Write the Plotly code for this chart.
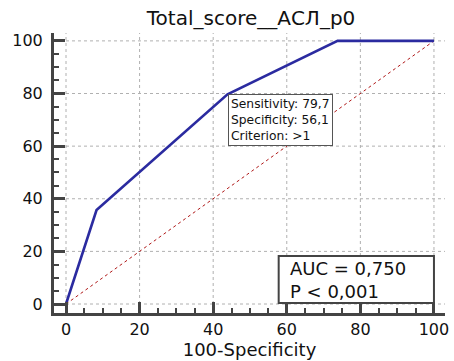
import plotly.graph_objects as go

# ROC curve coordinates (100-Specificity, Sensitivity)
fpr = [0, 8.3, 43.9, 73.8, 100]
tpr = [0, 35.7, 79.7, 100, 100]

# Reference (chance) line
ref_x = [0, 100]
ref_y = [0, 100]

tick_vals = [0, 20, 40, 60, 80, 100]
tick_text = ["0", "20", "40", "60", "80", "100"]

crit_sens = 79.7
crit_spec = 56.1
crit_label = ">1"
auc_text = "AUC = 0,750"
p_text = "P < 0,001"

XMIN, XMAX = -3.26, 103.0
YMIN, YMAX = -3.42, 103.0
FONT = "DejaVu Sans"

fig = go.Figure()

# dotted grid, starting at the origin
for v in tick_vals:
    fig.add_shape(type="line", xref="x", yref="y", x0=v, x1=v, y0=0, y1=YMAX,
                  line=dict(color="#b0b0b0", width=1, dash="dot"), layer="below")
    fig.add_shape(type="line", xref="x", yref="y", x0=0, x1=XMAX, y0=v, y1=v,
                  line=dict(color="#b0b0b0", width=1, dash="dot"), layer="below")

fig.add_trace(go.Scatter(x=ref_x, y=ref_y, mode="lines",
                         line=dict(color="#b01818", width=1, dash="dot"),
                         hoverinfo="skip"))
fig.add_trace(go.Scatter(x=fpr, y=tpr, mode="lines",
                         line=dict(color="#2b2ba0", width=2.6)))

fmt = lambda v: f"{v:.1f}".replace(".", ",")
fig.add_annotation(x=100 - crit_spec, y=crit_sens, xref="x", yref="y",
                   xanchor="left", yanchor="top", showarrow=False, align="left",
                   text=f"Sensitivity: {fmt(crit_sens)}<br>Specificity: {fmt(crit_spec)}<br>Criterion: {crit_label}",
                   font=dict(family=FONT, size=12.3, color="#111"),
                   bgcolor="white", bordercolor="#555", borderwidth=1, borderpad=2)

# AUC summary box in the lower-right corner
box_x0, box_y0, box_y1 = 57.8, 0.35, 18.2
fig.add_shape(type="rect", xref="x", yref="y", x0=box_x0, x1=100, y0=box_y0, y1=box_y1,
              line=dict(color="#444", width=2), fillcolor="white", layer="above")
fig.add_annotation(x=box_x0, y=(box_y0 + box_y1) / 2, xref="x", yref="y", xshift=9,
                   xanchor="left", yanchor="middle", showarrow=False, align="left",
                   text=f"{auc_text}<br>{p_text}",
                   font=dict(family=FONT, size=18, color="#111"))

axis_common = dict(
    showgrid=False, zeroline=False, showline=True, linecolor="#444", linewidth=3,
    automargin=False,
    ticks="inside", ticklen=11, tickwidth=2.5, tickcolor="#444",
    tickvals=tick_vals, ticktext=tick_text,
    tickfont=dict(family=FONT, size=16, color="#111"),
    minor=dict(ticks="inside", ticklen=5, tickwidth=1.5, tickcolor="#444", dtick=5, showgrid=False),
)

fig.update_layout(
    width=454, height=361,
    margin=dict(l=54, r=9, t=33, b=48),
    paper_bgcolor="white", plot_bgcolor="white",
    showlegend=False,
    title=dict(text="Total_score__АСЛ_р0", x=0.553, xanchor="center", y=0.95, yanchor="middle",
               font=dict(family=FONT, size=20, color="#111")),
    xaxis=dict(range=[XMIN, XMAX], ticklabelstandoff=0,
               title=dict(text="100-Specificity", standoff=4,
                          font=dict(family=FONT, size=18, color="#111")),
               **axis_common),
    yaxis=dict(range=[YMIN, YMAX], ticklabelstandoff=5, **axis_common),
)

fig.write_html("out.html")
